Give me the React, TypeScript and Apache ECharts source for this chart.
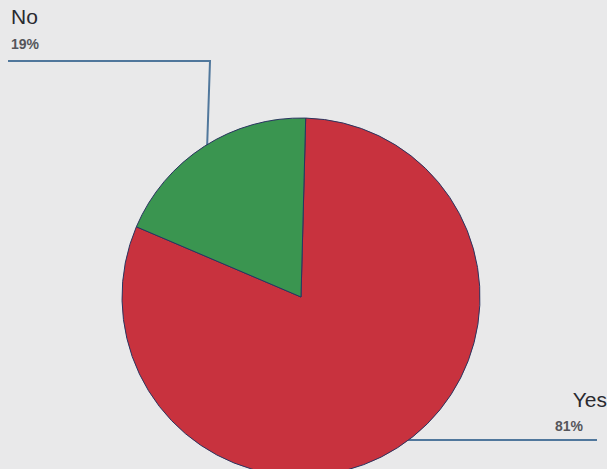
import React, { useEffect, useRef } from "react";
import * as echarts from "echarts";

const categories = ["Yes", "No"];
const values = [81, 19];
const colors = ["#c8323e", "#3a9550"];

export default function App() {
  const ref = useRef<HTMLDivElement>(null);
  useEffect(() => {
    document.body.style.margin = "0";
    const chart = echarts.init(ref.current!, null, { renderer: "svg" });
    chart.setOption({
      animation: false,
      backgroundColor: "#e9e9ea",
      series: [
        {
          type: "pie",
          center: [301, 297],
          radius: 179,
          startAngle: 88.5,
          clockwise: true,
          percentPrecision: 0,
          data: categories.map((c, i) => ({
            name: c,
            value: values[i],
            itemStyle: { color: colors[i] },
          })),
          itemStyle: { borderColor: "#2a3560", borderWidth: 1 },
          label: {
            show: true,
            position: "outside",
            formatter: (p: any) =>
              p.dataIndex === 0
                ? `{n|${p.name}}\n{pr|${Math.round(p.percent)}%}`
                : `{n|${p.name}}\n{pl|${Math.round(p.percent)}%}`,
            rich: {
              n: {
                fontFamily: "Liberation Sans, Arial, sans-serif",
                fontSize: 21,
                lineHeight: 28,
                color: "#2a2a30",
              },
              pl: {
                fontFamily: "Liberation Sans, Arial, sans-serif",
                fontSize: 14,
                fontWeight: "bold",
                lineHeight: 28,
                color: "#55555a",
              },
              pr: {
                fontFamily: "Liberation Sans, Arial, sans-serif",
                fontSize: 14,
                fontWeight: "bold",
                lineHeight: 26,
                color: "#55555a",
                padding: [0, 24, 0, 0],
              },
            },
          },
          labelLine: {
            show: true,
            lineStyle: { color: "#50779c", width: 2 },
          },
          labelLayout: (params: any) => {
            if (params.dataIndex === 1) {
              return {
                x: 11,
                y: 2,
                align: "left",
                verticalAlign: "top",
                labelLinePoints: [
                  [207, 150],
                  [210, 61],
                  [8, 61],
                ],
              };
            }
            return {
              x: 607,
              y: 385,
              align: "right",
              verticalAlign: "top",
              labelLinePoints: [
                [401, 440],
                [597, 440],
              ],
            };
          },
        },
      ],
    });
    return () => chart.dispose();
  }, []);
  return <div ref={ref} style={{ width: 607, height: 469 }} />;
}
